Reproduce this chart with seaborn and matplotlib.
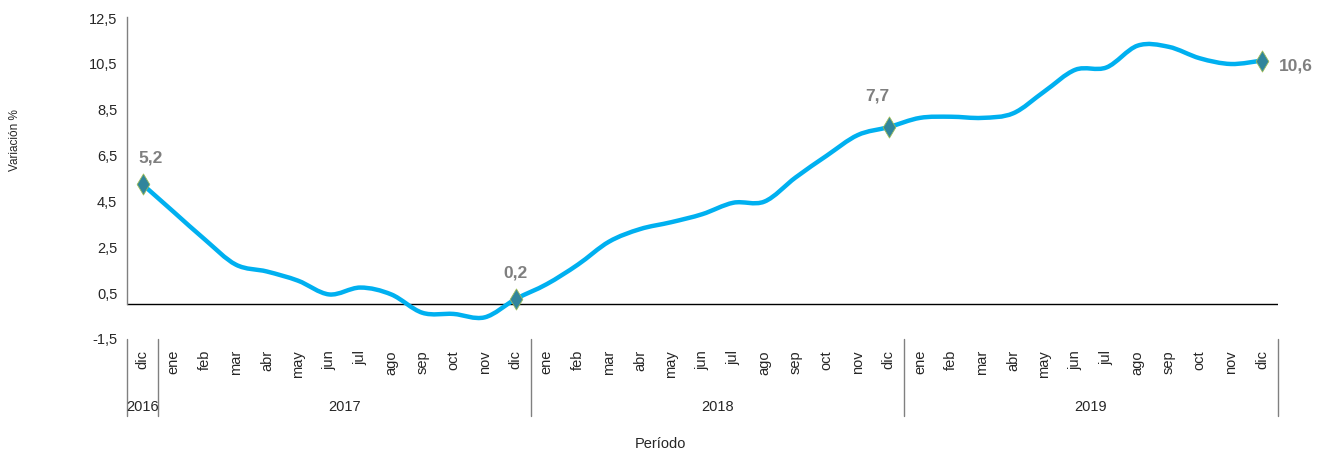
import numpy as np
import pandas as pd
import seaborn as sns
import matplotlib.pyplot as plt
from matplotlib.path import Path
from matplotlib.patches import PathPatch
import matplotlib.transforms as mtransforms

# monthly data, dic 2016 .. dic 2019
months = ['dic'] + ['ene', 'feb', 'mar', 'abr', 'may', 'jun', 'jul', 'ago', 'sep', 'oct', 'nov', 'dic'] * 3
years = ['2016', '2017', '2018', '2019']
values = [5.2,
          4.0, 2.8, 1.7, 1.4, 1.0, 0.4, 0.7, 0.4, -0.4, -0.45, -0.6, 0.2,
          0.85, 1.7, 2.7, 3.25, 3.55, 3.9, 4.4, 4.45, 5.5, 6.45, 7.35, 7.7,
          8.1, 8.15, 8.1, 8.3, 9.25, 10.2, 10.3, 11.25, 11.2, 10.7, 10.45, 10.6]
yticks = [-1.5, 0.5, 2.5, 4.5, 6.5, 8.5, 10.5, 12.5]

data = pd.DataFrame({'pos': range(len(values)), 'mes': months, 'valor': values})
hl = data.iloc[[0, 12, 24, 36]]

sns.set_theme(style='white')
narrow = ['Liberation Sans Narrow', 'Liberation Sans', 'DejaVu Sans']
plt.rcParams['font.family'] = ['Liberation Sans', 'DejaVu Sans']

fig = plt.figure(figsize=(13.23, 4.56), dpi=100)
ax = fig.add_axes([127 / 1323, 1 - 339 / 456, (1277.5 - 127) / 1323, 321 / 456])

# smoothed line (like excel smoothing), control points from the data
x = data['pos'].to_numpy(float)
y = data['valor'].to_numpy(float)
pts = np.column_stack([x, y])
ext = np.vstack([pts[0], pts, pts[-1]])
verts = [tuple(pts[0])]
codes = [Path.MOVETO]
for i in range(len(pts) - 1):
    p0, p1, p2, p3 = ext[i], ext[i + 1], ext[i + 2], ext[i + 3]
    c1 = p1 + (p2 - p0) / 6
    c2 = p2 - (p3 - p1) / 6
    verts += [tuple(c1), tuple(c2), tuple(p2)]
    codes += [Path.CURVE4] * 3
ax.add_patch(PathPatch(Path(verts, codes), facecolor='none', edgecolor='#00B0F0',
                       lw=3.2, capstyle='round', joinstyle='round', zorder=3))

sns.scatterplot(data=hl, x='pos', y='valor', marker='d', s=115, color='#31859C',
                edgecolor='#9BBB59', linewidth=0.6, zorder=4, ax=ax)

ax.axhline(0, color='black', lw=1, zorder=2)

# value labels
lab_off = [(6, 14), (0, 14), (-8, 18), (12, -3)]
lab_ha = ['center', 'center', 'center', 'left']
lab_va = ['bottom', 'bottom', 'bottom', 'center']
for (_, r), off, ha, va in zip(hl.iterrows(), lab_off, lab_ha, lab_va):
    ax.annotate(f"{r['valor']:.1f}".replace('.', ','), (r['pos'], r['valor']),
                xytext=off, textcoords='offset points', ha=ha, va=va,
                fontsize=12.5, fontweight='bold', color='#7F7F7F', family=narrow)

ax.set_xlim(-0.5, len(values) - 0.5)
ax.set_ylim(-1.5, 12.5)
ax.set_yticks(yticks)
ax.set_yticklabels([f"{t:.1f}".replace('.', ',') for t in yticks], family=narrow,
                   fontsize=10.5, color='#262626')
ax.set_xticks(data['pos'])
ax.set_xticklabels(months, rotation=90, fontsize=10.5, color='#262626')
ax.tick_params(axis='both', length=0)
ax.tick_params(axis='x', pad=8)
ax.tick_params(axis='y', pad=7)
ax.set_xlabel('')
ax.set_ylabel('')

for s in ['top', 'right', 'bottom']:
    ax.spines[s].set_visible(False)
ax.spines['left'].set_bounds(0, 12.5)
ax.spines['left'].set_color('#808080')
ax.spines['left'].set_linewidth(1)

# year groups under the month labels
trans = mtransforms.blended_transform_factory(ax.transData, ax.transAxes)
for b in [-0.5, 0.5, 12.5, 24.5, 36.5]:
    ax.plot([b, b], [-0.003, -0.243], transform=trans, color='#808080', lw=1,
            clip_on=False)
for yr, c in zip(years, [0, 6.5, 18.5, 30.5]):
    ax.text(c, -0.212, yr, transform=trans, ha='center', va='center',
            fontsize=10.5, family=narrow, color='#262626')

fig.text(660 / 1323, 1 - 444 / 456, 'Período', ha='center', va='center',
         fontsize=10.5, family=narrow, color='#262626')
fig.text(15 / 1323, 1 - 140 / 456, 'Variación %', ha='center', va='center',
         rotation=90, fontsize=8.5, color='#262626')

fig.savefig('out.png', dpi=100)
